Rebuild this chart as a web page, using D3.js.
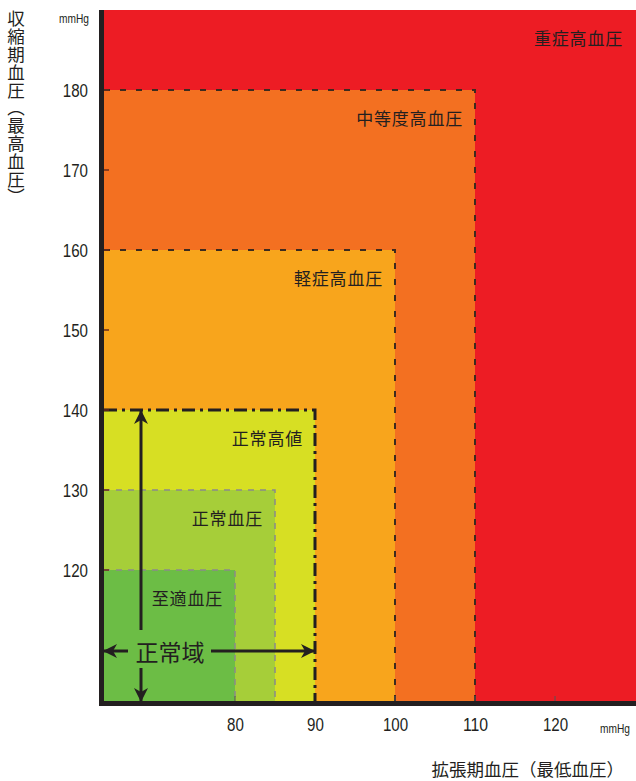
<!DOCTYPE html>
<html><head><meta charset="utf-8">
<script src="https://cdn.jsdelivr.net/npm/d3@7"></script>
<style>
html,body{margin:0;padding:0;background:#fff;}
svg{display:block;}
.num{font-family:"Liberation Sans",Arial,sans-serif;fill:#231f20;}
.jp{font-family:"Noto Sans CJK JP",sans-serif;fill:#231f20;}
</style></head>
<body>
<svg id="chart" width="636" height="781"></svg>
<script>
// ---- data ----
const zoneNames = ["重症高血圧","中等度高血圧","軽症高血圧","正常高値","正常血圧","至適血圧"];
const zoneDiastolicMax = [130.125, 110, 100, 90, 85, 80];   // mmHg (upper bound of zone)
const zoneSystolicMax  = [190, 180, 160, 140, 130, 120];    // mmHg (upper bound of zone)
const zoneColors = ["#ed1c24","#f37021","#f8a51c","#d7df23","#a6ce39","#6cbd45"];
const xTicks = [80, 90, 100, 110, 120];
const yTicks = [120, 130, 140, 150, 160, 170, 180];
const normalRangeLabel = "正常域";
const normalRange = {dia: 90, sys: 140};
const yTitle = "収縮期血圧（最高血圧）";
const xTitle = "拡張期血圧（最低血圧）";
const unit = "mmHg";

// ---- layout ----
const svg = d3.select("#chart");
const x = d3.scaleLinear().domain([63.625, 130.125]).range([104, 636]);
const y = d3.scaleLinear().domain([103.625, 190]).range([701, 10]);
const x0 = x.domain()[0], y0 = y.domain()[0];

// zones
svg.append("g").selectAll("rect").data(zoneNames).join("rect")
  .attr("x", x(x0))
  .attr("y", (d,i)=>y(zoneSystolicMax[i]))
  .attr("width", (d,i)=>x(zoneDiastolicMax[i]) - x(x0))
  .attr("height", (d,i)=>y(y0) - y(zoneSystolicMax[i]))
  .attr("fill", (d,i)=>zoneColors[i]);

// borders
const borderStyle = [
  null,
  {stroke:"#3d2b1f", w:2, dash:"6,10"},
  {stroke:"#3d2b1f", w:2, dash:"6,10"},
  {stroke:"#231f20", w:3, dash:"13,5,3,5"},
  {stroke:"#8a8a8a", w:1.5, dash:"6,6"},
  {stroke:"#8a8a8a", w:1.5, dash:"6,6"}
];
const bg = svg.append("g");
zoneNames.forEach((n,i)=>{
  const s = borderStyle[i];
  if(!s) return;
  const xr = x(zoneDiastolicMax[i]), yt = y(zoneSystolicMax[i]);
  bg.append("path")
    .attr("d", `M${x(x0)},${yt}H${xr}V${y(y0)}`)
    .attr("fill","none").attr("stroke",s.stroke).attr("stroke-width",s.w)
    .attr("stroke-dasharray",s.dash);
});

// zone labels
svg.append("g").selectAll("text").data(zoneNames).join("text")
  .attr("class","jp")
  .attr("x",(d,i)=>x(zoneDiastolicMax[i]) - (i===0?13:12))
  .attr("y",(d,i)=>y(zoneSystolicMax[i]) + 27)
  .attr("text-anchor","end").attr("dominant-baseline","central")
  .attr("font-size",17).attr("letter-spacing",0.8)
  .text(d=>d);

// axes ticks
const condense = sel => sel
  .attr("textLength", function(){ return this.textContent.length * 8.4; })
  .attr("lengthAdjust","spacingAndGlyphs");

const yAxis = d3.axisLeft(y).tickValues(yTicks).tickSize(0).tickPadding(0);
const gy = svg.append("g").attr("transform","translate(88,0)").call(yAxis);
gy.select(".domain").remove();
gy.selectAll("text").attr("class","num").attr("font-size",18).attr("fill","#231f20")
  .attr("font-family",null).attr("dy","0.36em").call(condense);
svg.append("g").selectAll("line").data(yTicks).join("line")
  .attr("x1",104).attr("x2",109).attr("y1",d=>y(d)).attr("y2",d=>y(d))
  .attr("stroke","#6b2a1a").attr("stroke-width",1.5);

const xAxis = d3.axisBottom(x).tickValues(xTicks).tickSize(0).tickPadding(0);
const gx = svg.append("g").attr("transform","translate(0,718)").call(xAxis);
gx.select(".domain").remove();
gx.selectAll("text").attr("class","num").attr("font-size",18).attr("fill","#231f20")
  .attr("font-family",null).attr("dy","0.71em").call(condense);
svg.append("g").selectAll("line").data(xTicks).join("line")
  .attr("x1",d=>x(d)).attr("x2",d=>x(d)).attr("y1",701).attr("y2",696)
  .attr("stroke",d=>d===90?"#231f20":"#555").attr("stroke-width",d=>d===90?2:1);

// axis lines
svg.append("line").attr("x1",101.5).attr("x2",101.5).attr("y1",10).attr("y2",706)
  .attr("stroke","#231f20").attr("stroke-width",5);
svg.append("line").attr("x1",99).attr("x2",636).attr("y1",703.5).attr("y2",703.5)
  .attr("stroke","#231f20").attr("stroke-width",5);

// units
svg.append("text").attr("class","num").attr("x",74).attr("y",23).attr("text-anchor","middle")
  .attr("font-size",13).attr("textLength",30).attr("lengthAdjust","spacingAndGlyphs").text(unit);
svg.append("text").attr("class","num").attr("x",615).attr("y",733).attr("text-anchor","middle")
  .attr("font-size",12.5).attr("textLength",30).attr("lengthAdjust","spacingAndGlyphs").text(unit);

// titles
svg.append("text").attr("class","jp").attr("x",16).attr("y",10)
  .attr("writing-mode","vertical-rl").attr("font-size",17.5).attr("letter-spacing",0.3)
  .text(yTitle);
svg.append("text").attr("class","jp").attr("x",624).attr("y",776)
  .attr("text-anchor","end")
  .attr("font-size",17.5).text(xTitle);

// normal range arrows
const defs = svg.append("defs");
defs.append("marker").attr("id","ah").attr("viewBox","0 0 14 14").attr("refX",13).attr("refY",7)
  .attr("markerWidth",14).attr("markerHeight",14).attr("markerUnits","userSpaceOnUse")
  .attr("orient","auto")
  .append("path").attr("d","M0,0L14,7L0,14L4,7Z").attr("fill","#231f20");
const ax = 141, ay = 651;
const arrows = svg.append("g").attr("stroke","#231f20").attr("stroke-width",3).attr("fill","none");
arrows.append("line").attr("x1",ax).attr("y1",630).attr("x2",ax).attr("y2",y(normalRange.sys)+1)
  .attr("marker-end","url(#ah)");
arrows.append("line").attr("x1",ax).attr("y1",668).attr("x2",ax).attr("y2",y(y0))
  .attr("marker-end","url(#ah)");
arrows.append("line").attr("x1",128).attr("y1",ay).attr("x2",x(x0)).attr("y2",ay)
  .attr("marker-end","url(#ah)");
arrows.append("line").attr("x1",211).attr("y1",ay).attr("x2",x(normalRange.dia)-1).attr("y2",ay)
  .attr("marker-end","url(#ah)");
svg.append("text").attr("class","jp").attr("x",170).attr("y",ay).attr("text-anchor","middle")
  .attr("dominant-baseline","central").attr("font-size",23).text(normalRangeLabel);
</script>
</body></html>
